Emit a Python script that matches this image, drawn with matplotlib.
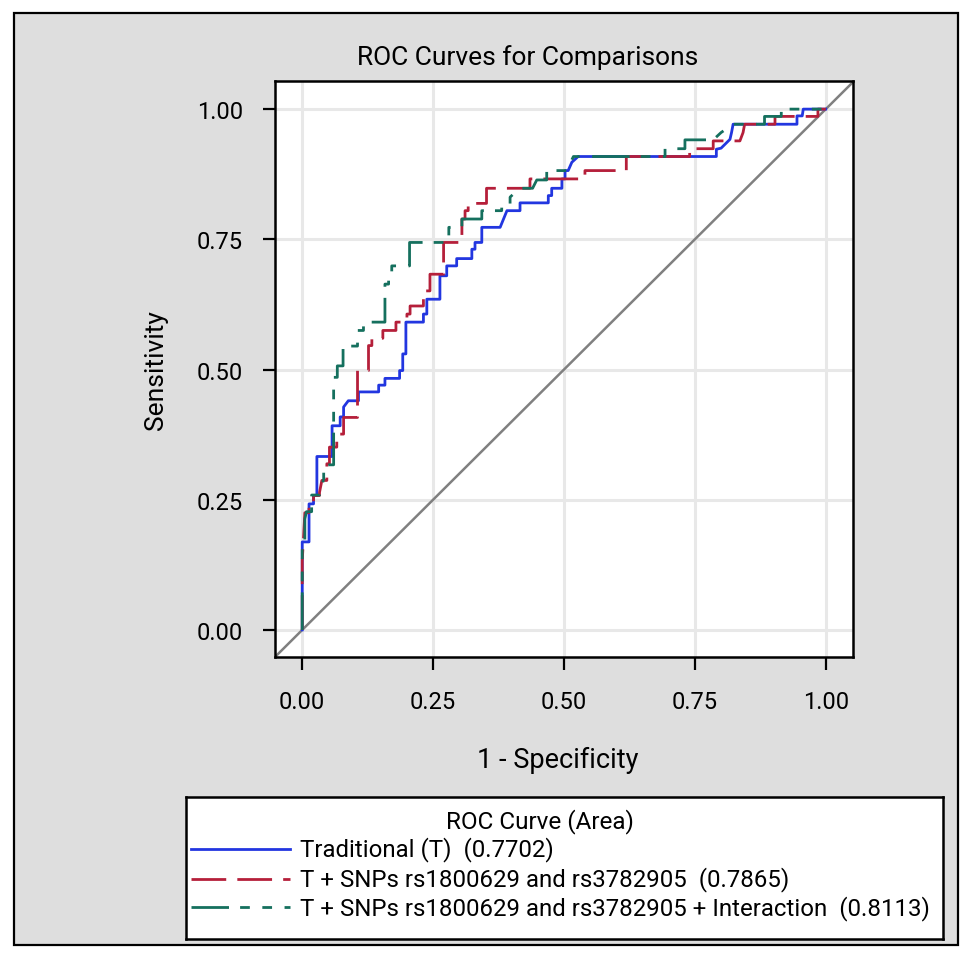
import matplotlib.pyplot as plt
from matplotlib.patches import Rectangle
from matplotlib.lines import Line2D

plt.rcParams['font.family'] = ['Roboto', 'DejaVu Sans']
plt.rcParams['lines.scale_dashes'] = False

# ROC points: x = 1 - specificity, y = sensitivity
trad_fpr = [0, 0, 0.013, 0.013, 0.0216, 0.0216, 0.028, 0.028, 0.057, 0.057,
            0.0725, 0.0725, 0.079, 0.079, 0.088, 0.1075, 0.1075, 0.146, 0.146, 0.158,
            0.158, 0.186, 0.186, 0.192, 0.192, 0.198, 0.198, 0.2315, 0.2315, 0.238,
            0.238, 0.263, 0.263, 0.276, 0.276, 0.295, 0.295, 0.324, 0.324, 0.330,
            0.330, 0.343, 0.343, 0.378, 0.391, 0.416, 0.416, 0.470, 0.470, 0.4765,
            0.4765, 0.496, 0.496, 0.502, 0.502, 0.508, 0.515, 0.527, 0.791, 0.791,
            0.800, 0.817, 0.820, 0.823, 0.945, 0.945, 0.955, 0.957, 1.0]
trad_sens = [0, 0.169, 0.169, 0.242, 0.242, 0.258, 0.258, 0.333, 0.333, 0.392,
             0.392, 0.409, 0.409, 0.428, 0.440, 0.440, 0.457, 0.457, 0.470, 0.470,
             0.483, 0.483, 0.498, 0.498, 0.530, 0.530, 0.591, 0.591, 0.6065, 0.6065,
             0.635, 0.635, 0.680, 0.680, 0.699, 0.699, 0.713, 0.713, 0.731, 0.731,
             0.744, 0.744, 0.773, 0.773, 0.805, 0.805, 0.820, 0.820, 0.834, 0.834,
             0.848, 0.848, 0.866, 0.866, 0.882, 0.882, 0.898, 0.909, 0.909, 0.923,
             0.925, 0.942, 0.955, 0.971, 0.971, 0.987, 0.987, 1.0, 1.0]

snp_fpr = [0, 0, 0.002, 0.005, 0.013, 0.013, 0.0216, 0.0216, 0.033, 0.033,
           0.0375, 0.047, 0.047, 0.052, 0.052, 0.066, 0.066, 0.079, 0.079, 0.1056,
           0.1056, 0.1266, 0.1266, 0.133, 0.133, 0.154, 0.154, 0.179, 0.179, 0.200,
           0.200, 0.206, 0.206, 0.2315, 0.2315, 0.244, 0.244, 0.270, 0.270, 0.305,
           0.305, 0.311, 0.311, 0.317, 0.317, 0.352, 0.352, 0.435, 0.435, 0.540,
           0.540, 0.619, 0.619, 0.740, 0.740, 0.785, 0.785, 0.836, 0.842, 0.845,
           0.903, 0.903, 0.985, 0.985, 1.0]
snp_sens = [0, 0.133, 0.168, 0.225, 0.225, 0.242, 0.242, 0.258, 0.258, 0.264,
            0.287, 0.287, 0.319, 0.319, 0.351, 0.351, 0.376, 0.376, 0.408, 0.408,
            0.498, 0.498, 0.546, 0.546, 0.560, 0.560, 0.575, 0.575, 0.591, 0.591,
            0.6065, 0.6065, 0.622, 0.622, 0.651, 0.651, 0.683, 0.683, 0.744, 0.744,
            0.789, 0.789, 0.805, 0.805, 0.819, 0.819, 0.848, 0.848, 0.866, 0.866,
            0.882, 0.882, 0.909, 0.909, 0.924, 0.924, 0.939, 0.939, 0.955, 0.971,
            0.971, 0.986, 0.986, 1.0, 1.0]

inter_fpr = [0, 0, 0.005, 0.005, 0.008, 0.018, 0.018, 0.033, 0.041, 0.041,
             0.047, 0.047, 0.060, 0.060, 0.067, 0.067, 0.078, 0.078, 0.1056, 0.1056,
             0.117, 0.117, 0.158, 0.158, 0.165, 0.165, 0.171, 0.171, 0.205, 0.205,
             0.270, 0.270, 0.280, 0.280, 0.305, 0.305, 0.343, 0.343, 0.381, 0.381,
             0.397, 0.397, 0.415, 0.440, 0.448, 0.467, 0.467, 0.505, 0.518, 0.693,
             0.693, 0.731, 0.731, 0.785, 0.800, 0.823, 0.883, 0.883, 0.915, 0.915, 1.0]
inter_sens = [0, 0.160, 0.160, 0.213, 0.227, 0.227, 0.259, 0.259, 0.290, 0.303,
              0.303, 0.317, 0.317, 0.485, 0.485, 0.507, 0.507, 0.545, 0.545, 0.575,
              0.575, 0.591, 0.591, 0.664, 0.664, 0.683, 0.683, 0.699, 0.699, 0.744,
              0.744, 0.757, 0.757, 0.773, 0.773, 0.789, 0.789, 0.805, 0.805, 0.818,
              0.818, 0.831, 0.848, 0.848, 0.864, 0.864, 0.882, 0.882, 0.909, 0.909,
              0.924, 0.924, 0.941, 0.941, 0.955, 0.971, 0.971, 0.986, 0.986, 1.0, 1.0]

curve_names = ['Traditional (T)', 'T + SNPs rs1800629 and rs3782905',
               'T + SNPs rs1800629 and rs3782905 + Interaction']
areas = ['0.7702', '0.7865', '0.8113']
colors = ['#2236e0', '#b51f3a', '#15705e']
dash_styles = ['-', (0, (25, 8)), (0, (27, 8, 7, 9, 7, 9))]

ticks = [0, 0.25, 0.5, 0.75, 1.0]
tick_labels = ['0.00', '0.25', '0.50', '0.75', '1.00']

fig = plt.figure(figsize=(9.74, 9.62), dpi=100, facecolor='white')

# grey frame behind everything
fig.patches.append(Rectangle((14/974, 1 - 946/962), 944/974, 932/962,
                             transform=fig.transFigure, facecolor='#dedede',
                             edgecolor='black', linewidth=1.6, zorder=-1))

ax = fig.add_axes([275/974, 1 - 658/962, 578/974, 576/962])
ax.set_facecolor('white')

ax.axline((0, 0), (1, 1), color='#808080', linewidth=1.8, zorder=1)

series = [(trad_fpr, trad_sens), (snp_fpr, snp_sens), (inter_fpr, inter_sens)]
for (xs, ys), c, ls in zip(series, colors, dash_styles):
    ax.plot(xs, ys, color=c, linestyle=ls, linewidth=2.0, zorder=3)

ax.set_xlim(-0.052, 1.052)
ax.set_ylim(-0.052, 1.054)
ax.set_xticks(ticks)
ax.set_xticklabels(tick_labels)
ax.set_yticks(ticks)
ax.set_yticklabels(tick_labels)
ax.tick_params(length=9, width=1.6, labelsize=17)
ax.tick_params(axis='x', pad=15)
ax.tick_params(axis='y', pad=14)
ax.grid(True, color='#e8e8e8', linewidth=2.2, zorder=0)
ax.set_axisbelow(True)
for sp in ax.spines.values():
    sp.set_linewidth(1.8)

ax.set_xlabel('1 - Specificity', fontsize=19.5, labelpad=20)
ax.xaxis.set_label_coords(0.49, -0.155)
ax.set_ylabel('Sensitivity', fontsize=19, labelpad=21)
# title sits a bit left of the axes centre in the original
ax.set_title('ROC Curves for Comparisons', fontsize=19, pad=12, x=0.4377)

# legend drawn as its own boxed axes so long labels get clipped at the frame
lax = fig.add_axes([186/974, 1 - 940/962, 757/974, 142/962])
lax.set_xlim(0, 1)
lax.set_ylim(0, 1)
lax.set_xticks([])
lax.set_yticks([])
lax.set_facecolor('white')
for sp in lax.spines.values():
    sp.set_linewidth(1.8)

lax.text(0.4676, 0.831, 'ROC Curve (Area)', ha='center', va='center', fontsize=17.5)
entry_y = [0.634, 0.4225, 0.225]
for name, area, c, ls, yy in zip(curve_names, areas, colors, dash_styles, entry_y):
    lax.add_line(Line2D([0.006, 0.137], [yy, yy], color=c, linestyle=ls, linewidth=2.0))
    lax.text(0.1506, yy, name + '  (' + area + ')', ha='left', va='center',
             fontsize=17.3, clip_on=True)

fig.savefig('out.png', dpi=100, facecolor=fig.get_facecolor())
